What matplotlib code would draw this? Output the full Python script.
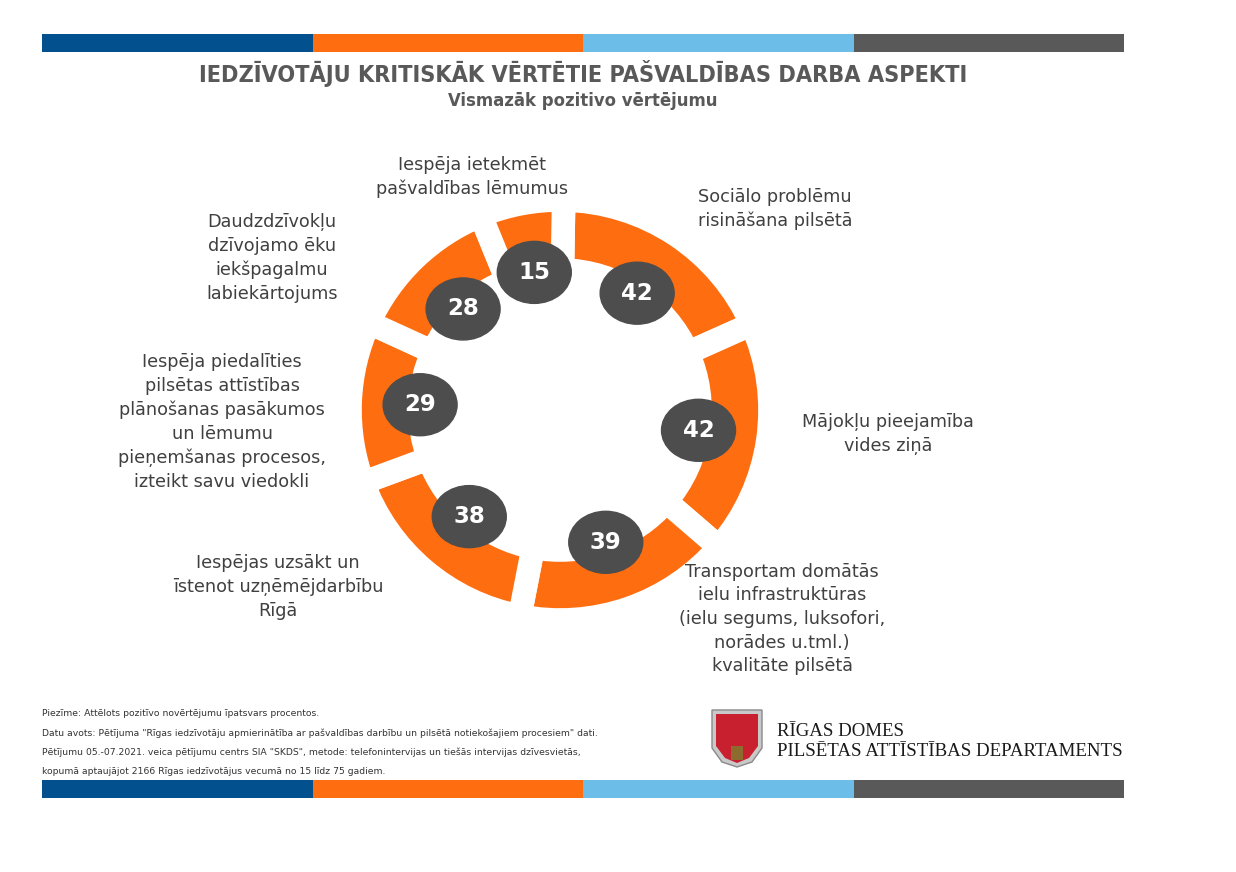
import matplotlib
matplotlib.use("Agg")
import matplotlib.pyplot as plt
from matplotlib.patches import Ellipse, Rectangle, Polygon
import numpy as np

W, H = 1236, 872

# data
labels = [
    "Sociālo problēmu\nrisināšana pilsētā",
    "Mājokļu pieejamība\nvides ziņā",
    "Transportam domātās\nielu infrastruktūras\n(ielu segums, luksofori,\nnorādes u.tml.)\nkvalitāte pilsētā",
    "Iespējas uzsākt un\nīstenot uzņēmējdarbību\nRīgā",
    "Iespēja piedalīties\npilsētas attīstības\nplānošanas pasākumos\nun lēmumu\npieņemšanas procesos,\nizteikt savu viedokli",
    "Daudzdzīvokļu\ndzīvojamo ēku\niekšpagalmu\nlabiekārtojums",
    "Iespēja ietekmēt\npašvaldības lēmumus",
]
values = [42, 42, 39, 38, 29, 28, 15]

title = "IEDZĪVOTĀJU KRITISKĀK VĒRTĒTIE PAŠVALDĪBAS DARBA ASPEKTI"
subtitle = "Vismazāk pozitivo vērtējumu"
notes = [
    "Piezīme: Attēlots pozitīvo novērtējumu īpatsvars procentos.",
    "Datu avots: Pētījuma \"Rīgas iedzīvotāju apmierinātība ar pašvaldības darbību un pilsētā notiekošajiem procesiem\" dati.",
    "Pētījumu 05.-07.2021. veica pētījumu centrs SIA \"SKDS\", metode: telefonintervijas un tiešās intervijas dzīvesvietās,",
    "kopumā aptaujājot 2166 Rīgas iedzīvotājus vecumā no 15 līdz 75 gadiem.",
]

ORANGE = "#FE6E10"
BLUE = "#03508E"
LBLUE = "#6CBDE8"
GREY = "#595959"
DARK = "#4D4D4D"
TXT = "#404040"


def Y(y):
    return H - y


fig = plt.figure(figsize=(W / 100, H / 100), dpi=100)
ax = fig.add_axes([0, 0, 1, 1])

# colour bands top and bottom
band_cols = [BLUE, ORANGE, LBLUE, GREY]
bw = (1124 - 42) / 4
for yb in (34, 780):
    for i, c in enumerate(band_cols):
        ax.add_patch(Rectangle((42 + i * bw, Y(yb + 18)), bw, 18, color=c, lw=0))

ax.text(583, Y(74), title, ha="center", va="center", fontsize=16.8,
        fontweight="bold", fontstretch="condensed", color=GREY,
        family="DejaVu Sans")
ax.text(583, Y(101), subtitle, ha="center", va="center", fontsize=13.2,
        fontweight="bold", fontstretch="condensed", color=GREY,
        family="DejaVu Sans")

# ring
cx, cy = 560, Y(410)
gap = 17
ax.pie(values, center=(cx, cy), radius=210, startangle=89, counterclock=False,
       colors=[ORANGE] * len(values), frame=True,
       wedgeprops=dict(width=70, edgecolor="white", linewidth=gap))

# value bubbles
ang = 89
for v in values:
    span = v / sum(values) * 360
    mid = np.deg2rad(ang - span / 2)
    ang -= span
    ex, ey = cx + 140 * np.cos(mid), cy + 140 * np.sin(mid)
    ax.add_patch(Ellipse((ex, ey), 74, 62, color=DARK, zorder=5))
    ax.text(ex, ey, str(v), ha="center", va="center", color="white",
            fontsize=16.5, fontweight="bold", zorder=6)

# category labels
label_pos = [(775, 209), (888, 434), (782, 619), (278, 587),
             (222, 422), (272, 258), (472, 177)]
for lab, (lx, ly) in zip(labels, label_pos):
    ax.text(lx, Y(ly), lab, ha="center", va="center", fontsize=12.7,
            color=TXT, linespacing=1.4)

# footnotes
for i, n in enumerate(notes):
    ax.text(42, Y(714 + i * 19), n, ha="left", va="center", fontsize=6.65,
            color="#333333")

# coat of arms (simplified)
shield = Polygon([(712, Y(710)), (762, Y(710)), (762, Y(748)), (752, Y(762)),
                  (737, Y(767)), (722, Y(762)), (712, Y(748))],
                 closed=True, fc="#C9C9C9", ec="#8A8A8A", lw=1)
ax.add_patch(shield)
inner = Polygon([(716, Y(714)), (758, Y(714)), (758, Y(746)), (749, Y(758)),
                 (737, Y(763)), (725, Y(758)), (716, Y(746))],
                closed=True, fc="#C8202F", ec="none")
ax.add_patch(inner)
ax.add_patch(Rectangle((731, Y(760)), 12, 14, fc="#8B6B2E", ec="none"))
ax.text(777, Y(731), "RĪGAS DOMES", ha="left", va="center", fontsize=13.6,
        family="Liberation Serif", color="#1a1a1a")
ax.text(777, Y(752), "PILSĒTAS ATTĪSTĪBAS DEPARTAMENTS", ha="left",
        va="center", fontsize=13.6, family="Liberation Serif", color="#1a1a1a")

ax.set_xlim(0, W)
ax.set_ylim(0, H)
ax.axis("off")
fig.savefig("out.png", dpi=100, facecolor="white")
